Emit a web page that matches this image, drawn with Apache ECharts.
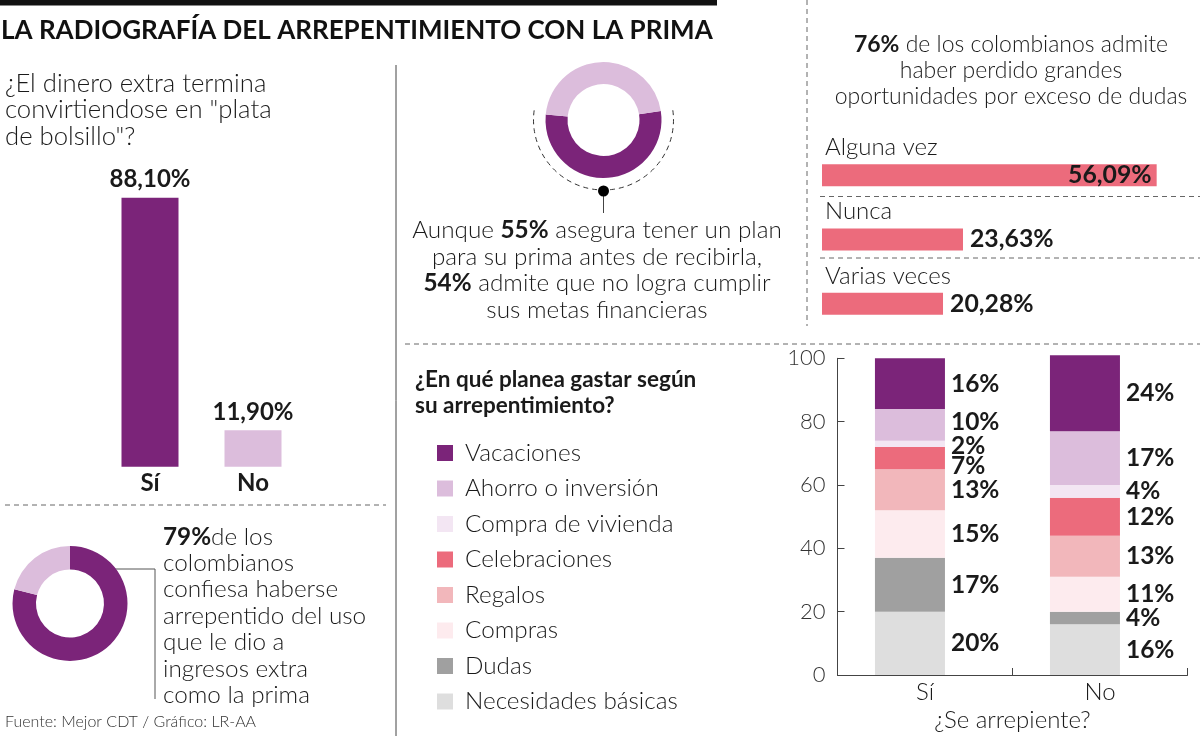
<!DOCTYPE html>
<html>
<head>
<meta charset="UTF-8">
<title>La radiografía del arrepentimiento con la prima</title>
<script src="https://cdn.jsdelivr.net/npm/echarts@6/dist/echarts.min.js"></script>
<style>
html, body { margin: 0; padding: 0; background: #fff; }
#main { width: 1200px; height: 736px; }
</style>
</head>
<body>
<div id="main"></div>
<script>
// plata de bolsillo
var plataCats = ['Sí', 'No'];
var plataVals = [88.10, 11.90];

// oportunidades perdidas por dudas
var oportCats = ['Alguna vez', 'Nunca', 'Varias veces'];
var oportVals = [56.09, 23.63, 20.28];

// gasto según arrepentimiento (de abajo hacia arriba)
var arrepCats = ['Sí', 'No'];
var gastoNames = ['Necesidades básicas', 'Dudas', 'Compras', 'Regalos', 'Celebraciones', 'Compra de vivienda', 'Ahorro o inversión', 'Vacaciones'];
var gastoSi = [20, 17, 15, 13, 7, 2, 10, 16];
var gastoNo = [16, 4, 11, 13, 12, 4, 17, 24];
var gastoTicks = [0, 20, 40, 60, 80, 100];

// donas
var arrepentidos = [79, 21];
var planPrima = [54, 46];

var FONT = 'Lato, "Open Sans", sans-serif';
var INK = '#1a1a1a';
var PURPLE = '#7b2479', LILAC = '#dcbddc', PINK = '#ec6b7c';
var gastoColors = ['#dedede', '#a0a0a0', '#fdebee', '#f2b7bb', '#ec6b7c', '#f3e6f3', '#dcbddc', '#7b2479'];
// pequeños ajustes de etiquetas apretadas en la barra "Sí"
var siNudge = {'Celebraciones': 8, 'Compra de vivienda': 2, 'Ahorro o inversión': -3};

function pct(v) { return v.toFixed(2).replace('.', ',') + '%'; }

var chart = echarts.init(document.getElementById('main'));

var gastoSeries = gastoNames.map(function (name, i) {
  var nudge = siNudge[name] || 0;
  return {
    name: name, type: 'bar', stack: 'gasto', xAxisIndex: 2, yAxisIndex: 2,
    barWidth: 70, barGap: '-57%', clip: false, silent: true,
    itemStyle: { color: gastoColors[i] },
    label: { show: true, position: 'right', distance: 6, formatter: '{c}%',
      fontFamily: FONT, fontWeight: 'bold', fontSize: 24.5, color: INK },
    data: [{ value: gastoSi[i], label: { offset: [0, nudge] } }, gastoNo[i]]
  };
});

var lineStyle = { stroke: '#444', lineWidth: 1 };
var dashStyle = { stroke: '#666', lineWidth: 1, lineDash: [5, 4] };
var bodyText = { fontFamily: FONT, fontWeight: 300, fontSize: 24.3, fill: INK };
var boldRich = function (lh) {
  return { b: { fontFamily: FONT, fontWeight: 'bold', fontSize: 24.3, lineHeight: lh, fill: INK } };
};

var option = {
  animation: false,
  backgroundColor: '#fff',
  textStyle: { fontFamily: FONT },
  grid: [
    { left: 98.5, top: 161.4, width: 206, height: 305.3 },
    { left: 822, top: 143, width: 358, height: 193 },
    { left: 837.5, top: 358.3, width: 350, height: 316.7 }
  ],
  xAxis: [
    { gridIndex: 0, type: 'category', data: plataCats,
      axisLine: { show: false }, axisTick: { show: false },
      axisLabel: { margin: 5, fontFamily: FONT, fontWeight: 'bold', fontSize: 24, color: INK } },
    { gridIndex: 1, type: 'value', min: 0, max: 60, show: false },
    { gridIndex: 2, type: 'category', data: arrepCats,
      axisLine: { lineStyle: { color: '#444', width: 1 } },
      axisTick: { show: true, inside: true, length: 7, lineStyle: { color: '#444' } },
      axisLabel: { margin: 5, fontFamily: FONT, fontWeight: 300, fontSize: 24, color: INK },
      name: '¿Se arrepiente?', nameLocation: 'middle', nameGap: 33,
      nameTextStyle: { fontFamily: FONT, fontWeight: 300, fontSize: 24, color: INK } }
  ],
  yAxis: [
    { gridIndex: 0, type: 'value', min: 0, max: 100, show: false },
    { gridIndex: 1, type: 'category', data: oportCats, inverse: true,
      axisLine: { show: false }, axisTick: { show: false },
      axisLabel: { inside: true, margin: 3, verticalAlign: 'bottom', padding: [0, 0, 16, 0],
        fontFamily: FONT, fontWeight: 300, fontSize: 24, color: INK } },
    { gridIndex: 2, type: 'value', min: 0, max: 100, interval: 20,
      axisLine: { show: true, lineStyle: { color: '#444', width: 1 } },
      axisTick: { show: true, inside: true, length: 7, lineStyle: { color: '#444' } },
      splitLine: { show: false },
      axisLabel: { margin: 12, fontFamily: FONT, fontWeight: 300, fontSize: 22, color: '#333',
        formatter: function (v) { return gastoTicks.indexOf(v) >= 0 ? String(v) : ''; } } }
  ],
  legend: {
    data: gastoNames.slice().reverse(),
    orient: 'vertical', left: 437, top: 441, padding: 0,
    itemWidth: 16, itemHeight: 16, itemGap: 11.5, icon: 'rect',
    selectedMode: false,
    textStyle: { fontFamily: FONT, fontWeight: 300, fontSize: 24.3, lineHeight: 20, color: INK, padding: [0, 0, 0, 7] }
  },
  series: [
    { type: 'bar', xAxisIndex: 0, yAxisIndex: 0, barWidth: 57, silent: true,
      data: plataVals.map(function (v, i) {
        return { value: v, itemStyle: { color: i === 0 ? PURPLE : LILAC } };
      }),
      label: { show: true, position: 'top', distance: 6,
        formatter: function (p) { return pct(p.value); },
        fontFamily: FONT, fontWeight: 'bold', fontSize: 24, color: INK } },
    { type: 'bar', xAxisIndex: 1, yAxisIndex: 1, barWidth: 22, silent: true,
      itemStyle: { color: PINK },
      data: oportVals.map(function (v, i) {
        return { value: v, label: { position: i === 0 ? 'insideRight' : 'right', distance: i === 0 ? 5 : 7 } };
      }),
      label: { show: true, formatter: function (p) { return pct(p.value); },
        fontFamily: FONT, fontWeight: 'bold', fontSize: 24.8, color: INK } },
    { type: 'pie', center: [70, 603.5], radius: [34, 57.5], startAngle: 90, clockwise: true,
      silent: true, label: { show: false }, labelLine: { show: false },
      data: arrepentidos.map(function (v, i) {
        return { value: v, name: i === 0 ? 'arrepentido' : 'resto', itemStyle: { color: i === 0 ? PURPLE : LILAC } };
      }) },
    { type: 'pie', center: [603.5, 120], radius: [36, 58], startAngle: 9, clockwise: true,
      silent: true, label: { show: false }, labelLine: { show: false },
      data: planPrima.map(function (v, i) {
        return { value: v, name: i === 0 ? 'no cumple' : 'resto', itemStyle: { color: i === 0 ? PURPLE : LILAC } };
      }) }
  ].concat(gastoSeries).concat([
    { name: 'hueco', type: 'bar', xAxisIndex: 2, yAxisIndex: 2, barWidth: 70, barGap: '-57%', data: [] }
  ]),
  graphic: [
    { type: 'rect', shape: { x: 0, y: 0, width: 717, height: 5.5 }, style: { fill: '#111' } },
    { type: 'text', x: 1, y: 31, style: { text: 'LA RADIOGRAFÍA DEL ARREPENTIMIENTO CON LA PRIMA',
      fontFamily: FONT, fontWeight: 'bold', fontSize: 26, fill: '#111', verticalAlign: 'middle' } },
    // separadores
    { type: 'line', shape: { x1: 396, y1: 65, x2: 396, y2: 736 }, style: lineStyle },
    { type: 'line', shape: { x1: 807, y1: 0, x2: 807, y2: 326 }, style: dashStyle },
    { type: 'line', shape: { x1: 405, y1: 344, x2: 1200, y2: 344 }, style: dashStyle },
    { type: 'line', shape: { x1: 5, y1: 505, x2: 386, y2: 505 }, style: dashStyle },
    { type: 'line', shape: { x1: 820, y1: 196.5, x2: 1200, y2: 196.5 }, style: dashStyle },
    { type: 'line', shape: { x1: 820, y1: 258, x2: 1200, y2: 258 }, style: dashStyle },
    // textos
    { type: 'text', x: 5, y: 70, style: Object.assign({}, bodyText, { fontSize: 25.7, lineHeight: 26.5,
      text: '¿El dinero extra termina\nconvirtiendose en "plata\nde bolsillo"?' }) },
    { type: 'text', x: 163, y: 523.5, style: Object.assign({}, bodyText, { lineHeight: 26.4,
      text: '{b|79%}de los\ncolombianos\nconfiesa haberse\narrepentido del uso\nque le dio a\ningresos extra\ncomo la prima',
      rich: boldRich(26.4) }) },
    { type: 'text', x: 5, y: 722, style: { text: 'Fuente: Mejor CDT / Gráfico: LR-AA',
      fontFamily: FONT, fontWeight: 300, fontSize: 16, fill: '#333', verticalAlign: 'middle' } },
    { type: 'text', x: 597, y: 217, style: Object.assign({}, bodyText, { lineHeight: 26.5, align: 'center',
      text: 'Aunque {b|55%} asegura tener un plan\npara su prima antes de recibirla,\n{b|54%} admite que no logra cumplir\nsus metas financieras',
      rich: boldRich(26.5) }) },
    { type: 'text', x: 1011, y: 32, style: Object.assign({}, bodyText, { fontSize: 23, lineHeight: 26, align: 'center',
      text: '{b|76%} de los colombianos admite\nhaber perdido grandes\noportunidades por exceso de dudas',
      rich: { b: { fontFamily: FONT, fontWeight: 'bold', fontSize: 23, lineHeight: 26, fill: INK } } }) },
    { type: 'text', x: 415, y: 367, style: { text: '¿En qué planea gastar según\nsu arrepentimiento?',
      fontFamily: FONT, fontWeight: 'bold', fontSize: 22.5, lineHeight: 26, fill: INK } },
    // conectores de las donas
    { type: 'arc', shape: { cx: 603.5, cy: 120, r: 70, startAngle: -8 * Math.PI / 180, endAngle: 188 * Math.PI / 180, clockwise: true },
      style: { stroke: '#333', lineWidth: 1, lineDash: [5, 4], fill: null } },
    { type: 'line', shape: { x1: 603.5, y1: 190, x2: 603.5, y2: 213 }, style: lineStyle },
    { type: 'circle', shape: { cx: 603.5, cy: 191, r: 5.5 }, style: { fill: '#000' } },
    { type: 'polyline', shape: { points: [[104, 569], [155, 569], [155, 699]] }, style: { stroke: '#555', lineWidth: 1, fill: null } },
    { type: 'circle', shape: { cx: 104, cy: 569, r: 5.5 }, style: { fill: '#000' } }
  ]
};

chart.setOption(option);
</script>
</body>
</html>
